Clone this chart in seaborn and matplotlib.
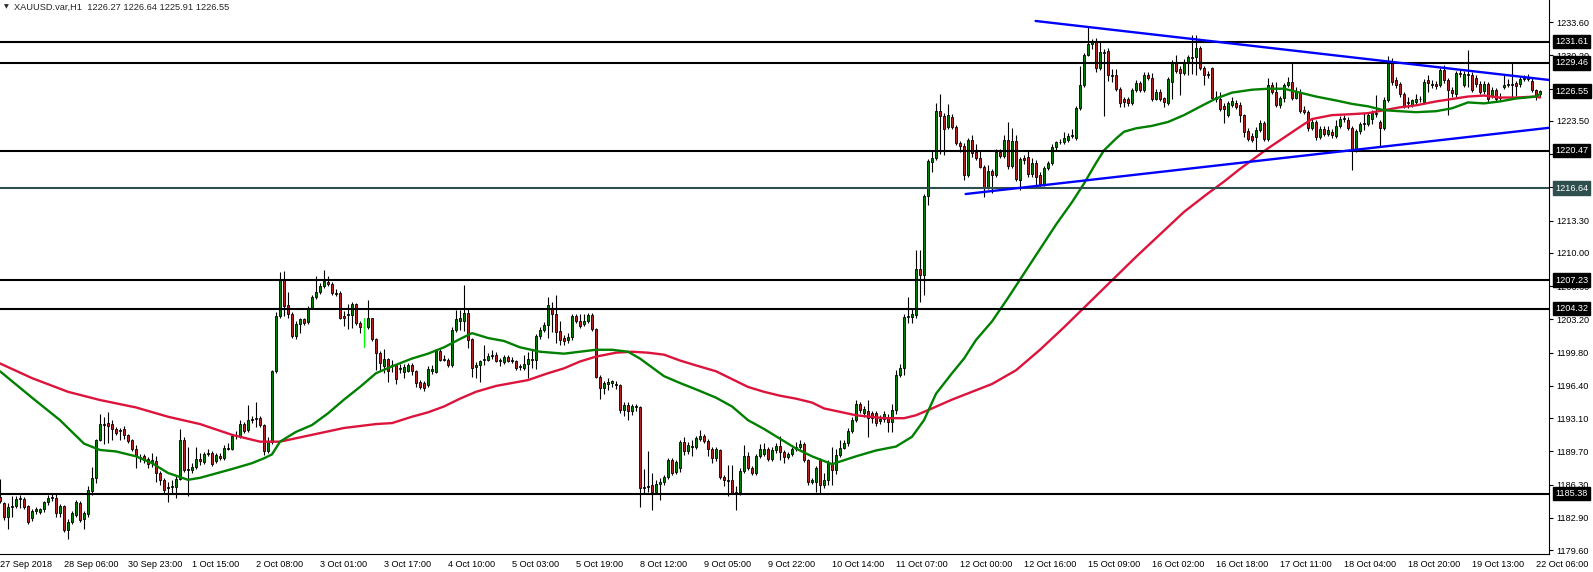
import numpy as np
import pandas as pd
import seaborn as sns
import matplotlib.pyplot as plt
from matplotlib.transforms import blended_transform_factory

# XAUUSD H1 candles (one value per hourly bar)
opens = [
    1185.0, 1184.4, 1183.0, 1184.0, 1184.1, 1184.8, 1184.8, 1184.1, 1182.9, 1183.6,
    1183.5, 1183.8, 1184.5, 1184.9, 1184.9, 1183.4, 1184.1, 1181.7, 1182.5, 1183.2,
    1184.4, 1182.8, 1183.3, 1185.7, 1187.0, 1190.9, 1192.5, 1192.6, 1192.5, 1192.0,
    1191.8, 1192.0, 1191.4, 1190.9, 1189.9, 1189.1, 1189.2, 1188.9, 1188.6, 1188.7,
    1187.5, 1186.8, 1186.0, 1186.1, 1186.1, 1186.9, 1190.9, 1187.8, 1187.8, 1188.1,
    1188.9, 1188.6, 1189.4, 1189.5, 1188.7, 1189.2, 1189.0, 1190.1, 1190.0, 1191.3,
    1191.3, 1192.5, 1191.9, 1192.9, 1193.0, 1193.1, 1192.4, 1189.7, 1190.7, 1197.9,
    1203.6, 1207.2, 1204.7, 1203.8, 1201.5, 1202.7, 1203.2, 1202.9, 1204.4, 1205.5,
    1206.0, 1206.6, 1207.0, 1206.8, 1205.9, 1205.9, 1203.6, 1203.7, 1203.7, 1204.8,
    1202.8, 1202.4, 1202.4, 1203.3, 1201.2, 1199.8, 1198.4, 1199.2, 1198.4, 1198.5,
    1198.1, 1197.8, 1197.9, 1198.5, 1197.9, 1196.8, 1196.7, 1196.5, 1197.9, 1197.8,
    1200.0, 1199.1, 1199.1, 1198.5, 1202.1, 1203.0, 1203.0, 1203.9, 1201.2, 1198.3,
    1198.5, 1199.1, 1199.1, 1199.5, 1199.6, 1199.0, 1198.8, 1199.4, 1199.0, 1198.9,
    1198.3, 1198.2, 1198.6, 1199.1, 1199.1, 1201.5, 1202.1, 1202.6, 1204.3, 1203.8,
    1202.0, 1201.3, 1201.1, 1201.4, 1203.6, 1203.0, 1202.7, 1203.0, 1203.7, 1202.2,
    1197.3, 1196.2, 1196.6, 1196.7, 1196.6, 1196.5, 1193.9, 1194.5, 1193.8, 1194.2,
    1194.2, 1186.0, 1186.1, 1186.3, 1185.6, 1186.4, 1186.6, 1187.1, 1188.8, 1187.6,
    1188.0, 1190.7, 1189.7, 1190.2, 1190.2, 1191.0, 1191.3, 1190.8, 1190.0, 1189.0,
    1189.8, 1187.1, 1186.8, 1186.8, 1185.5, 1185.6, 1187.7, 1189.2, 1188.0, 1187.5,
    1189.2, 1189.4, 1190.0, 1188.9, 1189.8, 1190.3, 1189.6, 1189.1, 1189.4, 1189.9,
    1190.2, 1190.5, 1188.8, 1186.6, 1186.6, 1188.8, 1186.3, 1186.8, 1188.5, 1187.8,
    1189.3, 1190.1, 1190.6, 1191.8, 1192.9, 1194.6, 1193.6, 1193.8, 1193.6, 1193.6,
    1192.8, 1193.0, 1193.1, 1192.7, 1193.9, 1197.5, 1198.2, 1203.5, 1203.5, 1203.7,
    1208.4, 1207.7, 1215.8, 1219.3, 1219.7, 1224.5, 1224.0, 1222.9, 1223.9, 1222.9,
    1221.2, 1220.9, 1218.0, 1221.6, 1220.3, 1219.7, 1218.8, 1216.7, 1218.4, 1218.0,
    1220.3, 1219.9, 1221.6, 1218.9, 1221.5, 1217.5, 1219.7, 1219.8, 1218.1, 1219.2,
    1218.0, 1217.0, 1218.7, 1219.2, 1220.8, 1221.3, 1221.4, 1221.6, 1222.0, 1221.8,
    1224.8, 1227.2, 1230.3, 1231.4, 1231.7, 1228.9, 1230.6, 1230.7, 1228.2, 1228.2,
    1226.8, 1225.8, 1225.8, 1225.3, 1226.7, 1227.4, 1226.7, 1228.2, 1227.9, 1225.8,
    1226.5, 1225.9, 1225.3, 1227.5, 1229.5, 1228.8, 1228.4, 1229.5, 1230.0, 1230.0,
    1231.0, 1228.9, 1228.3, 1228.9, 1226.0, 1225.7, 1225.0, 1224.1, 1225.1, 1225.3,
    1225.1, 1224.1, 1222.5, 1222.0, 1221.9, 1222.6, 1223.3, 1221.7, 1227.2, 1226.5,
    1225.1, 1225.9, 1227.2, 1227.5, 1225.9, 1226.5, 1224.6, 1224.4, 1222.8, 1223.4,
    1221.9, 1222.7, 1222.2, 1222.4, 1222.0, 1223.0, 1223.7, 1223.6, 1222.8, 1220.5,
    1222.5, 1223.2, 1223.2, 1223.7, 1224.2, 1223.4, 1222.8, 1225.6, 1229.4, 1227.7,
    1227.3, 1226.3, 1225.4, 1225.1, 1225.4, 1225.8, 1225.4, 1227.7, 1227.2, 1227.3,
    1227.2, 1228.7, 1227.7, 1226.7, 1226.3, 1228.4, 1227.2, 1228.3, 1228.2, 1227.9,
    1227.3, 1226.6, 1227.3, 1226.1, 1226.7, 1225.9, 1227.0, 1227.2, 1227.3, 1227.4,
    1227.3, 1227.8, 1227.8, 1227.6, 1226.7, 1226.27,
]
highs = [
    1186.9, 1184.5, 1184.4, 1185.1, 1185.1, 1185.2, 1185.0, 1184.2, 1183.8, 1184.0,
    1183.9, 1184.6, 1185.2, 1185.3, 1185.3, 1184.3, 1184.2, 1182.8, 1183.6, 1184.7,
    1184.6, 1183.6, 1186.2, 1188.1, 1191.0, 1193.5, 1193.2, 1193.7, 1192.9, 1192.2,
    1192.1, 1192.3, 1191.5, 1191.0, 1190.4, 1189.4, 1189.4, 1189.1, 1189.5, 1189.2,
    1187.7, 1187.0, 1186.6, 1186.8, 1187.2, 1192.0, 1191.2, 1190.2, 1188.5, 1190.2,
    1189.5, 1189.6, 1190.0, 1189.7, 1189.5, 1189.5, 1190.4, 1190.6, 1191.4, 1191.8,
    1192.9, 1192.7, 1194.5, 1193.3, 1194.8, 1193.3, 1192.5, 1191.2, 1198.0, 1204.0,
    1208.1, 1208.2, 1206.0, 1204.0, 1203.0, 1203.4, 1203.4, 1204.6, 1205.7, 1207.6,
    1206.9, 1208.3, 1207.6, 1207.0, 1206.3, 1206.1, 1204.1, 1204.8, 1205.0, 1204.9,
    1203.0, 1203.3, 1205.2, 1203.4, 1201.3, 1200.0, 1200.2, 1199.3, 1199.1, 1198.6,
    1198.6, 1198.6, 1198.7, 1198.7, 1198.0, 1197.0, 1196.9, 1198.4, 1198.5, 1200.2,
    1200.3, 1199.6, 1199.3, 1202.4, 1204.2, 1204.2, 1206.7, 1204.3, 1201.3, 1198.8,
    1199.1, 1200.6, 1199.8, 1200.1, 1199.9, 1199.3, 1199.6, 1199.6, 1199.4, 1199.1,
    1198.6, 1199.6, 1199.9, 1200.1, 1201.7, 1202.4, 1202.9, 1205.5, 1205.0, 1205.7,
    1203.0, 1201.6, 1201.8, 1203.8, 1203.8, 1203.8, 1203.8, 1203.9, 1203.9, 1202.3,
    1197.5, 1196.9, 1197.2, 1197.0, 1196.9, 1196.6, 1194.8, 1194.8, 1194.6, 1194.6,
    1194.3, 1187.9, 1189.7, 1187.5, 1186.8, 1187.0, 1187.3, 1189.0, 1189.0, 1188.8,
    1190.9, 1191.2, 1190.7, 1190.9, 1191.3, 1191.9, 1191.5, 1191.0, 1190.2, 1190.2,
    1190.0, 1187.3, 1188.3, 1188.3, 1186.2, 1188.0, 1190.4, 1189.6, 1188.2, 1189.4,
    1190.5, 1190.6, 1190.2, 1190.2, 1190.6, 1191.3, 1189.8, 1189.6, 1190.2, 1190.7,
    1190.9, 1190.7, 1188.9, 1187.0, 1188.2, 1189.0, 1187.5, 1188.8, 1190.2, 1189.9,
    1190.9, 1190.9, 1192.1, 1193.2, 1195.0, 1194.8, 1194.3, 1195.0, 1193.8, 1193.8,
    1193.4, 1193.8, 1193.5, 1194.6, 1198.0, 1198.6, 1203.8, 1205.5, 1204.3, 1210.3,
    1210.3, 1216.0, 1219.6, 1220.5, 1225.3, 1226.3, 1224.3, 1225.2, 1224.2, 1223.1,
    1221.5, 1221.2, 1221.8, 1222.1, 1221.1, 1220.4, 1219.0, 1219.0, 1218.6, 1220.6,
    1220.6, 1222.1, 1223.4, 1222.8, 1222.1, 1219.8, 1220.0, 1220.5, 1219.7, 1219.5,
    1218.3, 1218.9, 1219.4, 1221.1, 1221.5, 1221.7, 1222.4, 1222.3, 1222.7, 1225.0,
    1229.1, 1230.5, 1233.1, 1231.9, 1232.0, 1231.6, 1230.9, 1231.0, 1228.8, 1228.8,
    1227.0, 1226.0, 1226.0, 1226.9, 1227.7, 1227.6, 1228.5, 1228.5, 1228.4, 1226.8,
    1226.8, 1226.0, 1228.0, 1229.7, 1230.2, 1229.1, 1229.8, 1230.2, 1232.3, 1232.3,
    1231.2, 1229.1, 1228.6, 1229.0, 1226.6, 1226.5, 1225.3, 1225.5, 1226.0, 1225.6,
    1225.4, 1224.2, 1222.8, 1222.3, 1222.9, 1223.6, 1223.5, 1227.9, 1227.5, 1227.5,
    1226.1, 1227.4, 1228.0, 1229.4, 1227.0, 1226.8, 1225.0, 1224.6, 1223.7, 1223.6,
    1223.0, 1223.0, 1223.0, 1222.7, 1223.6, 1224.0, 1224.1, 1223.9, 1223.0, 1222.7,
    1223.4, 1224.3, 1224.4, 1224.6, 1226.2, 1223.6, 1226.0, 1230.1, 1229.9, 1228.0,
    1227.5, 1226.5, 1226.0, 1225.8, 1226.3, 1226.1, 1227.8, 1228.2, 1227.7, 1227.6,
    1228.9, 1229.2, 1227.9, 1227.0, 1228.6, 1228.8, 1228.6, 1230.8, 1228.5, 1228.2,
    1227.6, 1227.6, 1227.5, 1227.0, 1226.9, 1226.4, 1228.2, 1227.8, 1229.4, 1227.6,
    1228.1, 1228.2, 1228.3, 1228.0, 1226.8, 1226.64,
]
lows = [
    1184.4, 1182.7, 1181.8, 1183.0, 1183.9, 1183.9, 1183.8, 1182.3, 1182.6, 1183.3,
    1183.3, 1183.5, 1184.2, 1184.6, 1183.0, 1183.0, 1181.5, 1180.7, 1182.3, 1183.0,
    1182.5, 1181.8, 1183.0, 1185.2, 1186.5, 1190.8, 1190.5, 1190.6, 1190.9, 1191.4,
    1190.9, 1191.0, 1190.6, 1189.7, 1188.0, 1188.6, 1188.5, 1188.0, 1188.1, 1186.6,
    1186.3, 1185.3, 1184.5, 1185.5, 1184.9, 1186.8, 1187.6, 1185.1, 1187.5, 1187.9,
    1188.3, 1188.4, 1189.2, 1188.2, 1188.5, 1188.8, 1188.8, 1189.8, 1189.8, 1191.0,
    1191.1, 1191.6, 1191.7, 1192.6, 1192.2, 1192.2, 1189.3, 1189.5, 1190.5, 1197.7,
    1203.4, 1203.6, 1203.4, 1201.3, 1201.2, 1201.8, 1202.6, 1202.7, 1204.3, 1205.3,
    1205.8, 1206.4, 1206.6, 1205.7, 1205.6, 1203.2, 1202.5, 1202.2, 1202.3, 1202.6,
    1201.8, 1200.4, 1202.2, 1201.0, 1198.0, 1197.9, 1197.7, 1196.8, 1197.8, 1196.6,
    1197.7, 1197.2, 1197.8, 1197.5, 1196.3, 1196.1, 1195.9, 1196.3, 1197.6, 1197.7,
    1198.9, 1198.9, 1198.3, 1198.3, 1201.9, 1202.1, 1202.0, 1200.3, 1197.3, 1197.2,
    1196.8, 1198.5, 1198.9, 1199.2, 1198.8, 1198.4, 1198.6, 1198.8, 1198.7, 1198.0,
    1198.0, 1198.0, 1197.2, 1198.2, 1198.1, 1201.2, 1201.9, 1201.3, 1201.9, 1200.8,
    1200.6, 1200.6, 1200.8, 1201.1, 1202.8, 1202.3, 1202.5, 1202.8, 1202.0, 1197.2,
    1195.1, 1195.6, 1196.0, 1196.3, 1196.1, 1193.6, 1193.3, 1192.9, 1193.4, 1193.8,
    1184.0, 1185.5, 1185.6, 1183.7, 1185.4, 1184.7, 1186.3, 1186.9, 1187.3, 1187.4,
    1187.6, 1189.3, 1189.4, 1189.2, 1190.0, 1190.8, 1190.6, 1189.2, 1188.5, 1188.7,
    1186.9, 1186.2, 1185.1, 1185.3, 1183.7, 1185.2, 1187.5, 1187.8, 1187.3, 1187.3,
    1189.0, 1189.2, 1188.7, 1188.7, 1189.5, 1188.8, 1188.5, 1188.9, 1189.2, 1189.7,
    1190.0, 1188.6, 1186.3, 1186.4, 1185.6, 1185.4, 1186.0, 1186.3, 1186.3, 1187.4,
    1189.1, 1189.9, 1190.3, 1191.6, 1192.7, 1193.6, 1193.2, 1191.2, 1192.6, 1192.3,
    1192.5, 1192.7, 1191.7, 1191.7, 1193.5, 1197.3, 1197.5, 1202.8, 1202.8, 1203.4,
    1205.0, 1205.7, 1214.9, 1218.3, 1219.5, 1220.1, 1220.0, 1222.7, 1222.7, 1221.0,
    1220.3, 1217.5, 1217.8, 1219.8, 1219.5, 1218.7, 1215.7, 1216.5, 1216.1, 1217.8,
    1219.7, 1219.7, 1218.6, 1218.7, 1217.4, 1216.4, 1219.1, 1217.8, 1217.8, 1217.0,
    1216.8, 1216.8, 1218.5, 1219.0, 1220.4, 1221.1, 1221.1, 1221.4, 1221.8, 1221.6,
    1224.6, 1227.0, 1230.1, 1230.9, 1228.5, 1228.7, 1224.0, 1227.6, 1227.5, 1226.6,
    1224.9, 1224.9, 1225.0, 1225.1, 1226.5, 1226.5, 1226.5, 1227.7, 1225.5, 1225.6,
    1225.5, 1224.9, 1225.1, 1225.8, 1228.4, 1226.2, 1228.2, 1228.2, 1228.3, 1228.2,
    1228.7, 1227.2, 1227.9, 1225.6, 1225.4, 1224.5, 1223.3, 1223.9, 1224.9, 1224.7,
    1223.4, 1221.9, 1221.5, 1221.4, 1220.5, 1222.4, 1221.5, 1221.5, 1226.3, 1224.9,
    1224.8, 1225.4, 1227.0, 1225.6, 1225.7, 1224.3, 1224.2, 1222.5, 1222.6, 1221.6,
    1221.7, 1222.0, 1222.0, 1221.8, 1221.8, 1222.8, 1223.4, 1222.6, 1218.5, 1220.3,
    1222.2, 1222.6, 1223.0, 1223.2, 1223.9, 1220.9, 1222.6, 1225.4, 1227.2, 1226.9,
    1226.0, 1224.8, 1224.8, 1224.9, 1225.2, 1225.4, 1225.2, 1226.5, 1226.9, 1226.8,
    1227.0, 1227.4, 1224.1, 1226.0, 1226.0, 1228.0, 1227.0, 1227.0, 1226.5, 1227.0,
    1226.3, 1226.3, 1225.3, 1225.9, 1225.4, 1225.6, 1226.8, 1227.0, 1226.0, 1226.1,
    1227.0, 1227.6, 1227.6, 1226.5, 1225.6, 1225.91,
]
closes = [
    1184.6, 1183.0, 1184.0, 1184.1, 1184.8, 1184.9, 1184.0, 1182.5, 1183.6, 1183.8,
    1183.8, 1184.5, 1184.9, 1185.0, 1183.4, 1184.1, 1181.7, 1182.5, 1183.4, 1184.5,
    1182.7, 1183.4, 1185.8, 1187.0, 1190.9, 1192.5, 1192.4, 1192.3, 1192.0, 1191.6,
    1191.9, 1191.4, 1190.8, 1189.9, 1189.2, 1189.0, 1188.8, 1188.4, 1188.8, 1187.5,
    1186.8, 1185.8, 1186.1, 1186.2, 1186.9, 1190.9, 1187.8, 1187.9, 1188.1, 1188.9,
    1188.7, 1189.4, 1189.5, 1188.4, 1189.3, 1189.0, 1190.1, 1190.0, 1191.3, 1191.4,
    1192.5, 1191.8, 1192.9, 1193.0, 1193.1, 1192.4, 1189.7, 1190.7, 1197.9, 1203.6,
    1207.2, 1204.6, 1203.8, 1201.5, 1202.7, 1203.2, 1202.8, 1204.4, 1205.5, 1206.0,
    1206.6, 1207.1, 1206.8, 1205.9, 1205.8, 1203.4, 1203.4, 1203.8, 1204.8, 1202.8,
    1202.4, 1202.4, 1203.3, 1201.2, 1199.8, 1198.7, 1199.2, 1197.9, 1198.5, 1197.1,
    1198.2, 1198.3, 1198.5, 1197.9, 1196.7, 1196.3, 1196.2, 1198.1, 1198.1, 1200.0,
    1199.1, 1199.2, 1198.5, 1202.1, 1203.2, 1203.3, 1203.9, 1201.1, 1198.2, 1198.5,
    1198.9, 1199.2, 1199.5, 1199.6, 1199.0, 1199.1, 1199.4, 1199.0, 1199.1, 1198.2,
    1198.4, 1198.6, 1199.2, 1199.2, 1201.5, 1202.1, 1202.6, 1204.7, 1203.8, 1201.9,
    1201.1, 1201.0, 1201.4, 1203.6, 1203.0, 1202.5, 1203.0, 1203.7, 1202.2, 1197.3,
    1196.2, 1196.7, 1196.8, 1196.9, 1196.5, 1193.9, 1194.5, 1193.8, 1194.3, 1194.3,
    1186.0, 1186.1, 1186.2, 1185.6, 1186.4, 1186.6, 1187.1, 1188.8, 1187.5, 1188.6,
    1190.7, 1189.7, 1190.4, 1190.3, 1191.1, 1191.3, 1190.8, 1189.9, 1189.0, 1189.9,
    1187.1, 1186.8, 1186.7, 1185.5, 1185.6, 1187.7, 1189.2, 1188.0, 1187.5, 1189.2,
    1190.0, 1190.0, 1188.9, 1189.8, 1190.3, 1189.6, 1189.1, 1189.4, 1189.9, 1190.2,
    1190.5, 1188.8, 1186.6, 1186.8, 1188.0, 1186.3, 1186.8, 1188.5, 1187.8, 1189.3,
    1190.1, 1190.6, 1191.8, 1192.9, 1194.6, 1193.9, 1194.0, 1193.1, 1193.1, 1192.6,
    1193.0, 1193.5, 1192.7, 1193.9, 1197.5, 1198.2, 1203.5, 1203.6, 1203.8, 1208.4,
    1207.7, 1215.8, 1219.4, 1219.7, 1224.5, 1224.0, 1222.7, 1224.1, 1222.9, 1221.2,
    1220.9, 1218.0, 1221.6, 1220.2, 1219.7, 1218.8, 1216.7, 1218.4, 1218.0, 1220.3,
    1219.9, 1221.6, 1218.9, 1221.5, 1217.6, 1219.6, 1219.5, 1218.1, 1219.2, 1217.8,
    1217.1, 1218.7, 1219.2, 1220.8, 1221.3, 1221.4, 1221.8, 1222.0, 1222.1, 1224.8,
    1227.2, 1230.3, 1231.4, 1231.6, 1228.9, 1230.6, 1230.5, 1228.2, 1228.1, 1226.8,
    1225.3, 1225.4, 1225.3, 1226.7, 1227.4, 1226.7, 1228.2, 1227.9, 1225.8, 1226.5,
    1225.7, 1225.4, 1227.8, 1229.5, 1228.6, 1228.4, 1229.5, 1230.0, 1229.9, 1231.0,
    1228.9, 1228.2, 1228.2, 1225.9, 1225.7, 1224.7, 1224.7, 1225.3, 1225.5, 1224.9,
    1224.1, 1222.4, 1221.7, 1221.6, 1222.6, 1223.3, 1221.7, 1227.2, 1226.5, 1225.1,
    1225.9, 1227.2, 1227.5, 1225.9, 1226.5, 1224.5, 1224.4, 1222.8, 1223.4, 1221.9,
    1222.7, 1222.2, 1222.6, 1222.1, 1223.0, 1223.7, 1223.8, 1222.8, 1220.5, 1222.5,
    1223.2, 1223.3, 1224.1, 1224.3, 1224.3, 1222.8, 1225.6, 1229.4, 1227.5, 1227.2,
    1226.3, 1225.0, 1225.3, 1225.6, 1225.8, 1225.7, 1227.5, 1227.4, 1227.3, 1227.1,
    1228.7, 1227.7, 1226.7, 1226.4, 1228.4, 1228.3, 1228.3, 1228.2, 1226.7, 1227.3,
    1226.5, 1227.3, 1225.7, 1226.7, 1225.7, 1226.0, 1227.2, 1227.3, 1227.2, 1227.1,
    1227.8, 1227.9, 1228.0, 1226.7, 1226.1, 1226.55,
]

# moving averages, sampled along the chart (bar index, price)
ma_fast_bar = [0, 8, 15, 21, 25, 29, 34, 38, 42, 47, 50, 54, 58, 63, 66, 68, 70, 74, 78, 82,
               86, 90, 94, 98, 103, 107, 111, 115, 118, 122, 126, 130, 135, 141, 145, 149, 153, 157, 160, 166,
               170, 174, 179, 183, 187, 191, 195, 199, 203, 208, 214, 219, 224, 228, 231, 234, 238, 241, 244, 248,
               252, 256, 260, 264, 268, 271, 274, 276, 279, 281, 284, 288, 292, 296, 300, 304, 308, 313, 317, 321,
               325, 329, 334, 338, 342, 346, 350, 354, 359, 363, 367, 371, 375, 379, 384, 385]
ma_fast = [1197.9, 1195.2, 1192.9, 1190.5, 1189.85, 1189.7, 1189.2, 1188.5, 1187.5, 1186.8,
           1187.0, 1187.45, 1187.9, 1188.5, 1189.0, 1189.4, 1190.7, 1191.7, 1192.4, 1193.6,
           1195.0, 1196.3, 1197.7, 1198.4, 1199.2, 1199.7, 1200.35, 1201.2, 1201.8, 1201.3,
           1201.0, 1200.35, 1199.9, 1199.7, 1199.9, 1200.1, 1200.1, 1199.9, 1199.2, 1197.4,
           1196.7, 1196.05, 1195.2, 1194.3, 1192.9, 1192.0, 1191.0, 1190.0, 1189.2, 1188.4,
           1189.2, 1189.8, 1190.2, 1191.2, 1192.9, 1195.6, 1197.7, 1199.2, 1201.1, 1203.0,
           1205.4, 1207.9, 1210.4, 1212.9, 1215.2, 1217.1, 1219.2, 1220.5, 1221.7, 1222.4,
           1222.75, 1223.0, 1223.4, 1224.1, 1224.96, 1225.8, 1226.4, 1226.7, 1226.8, 1226.8,
           1226.4, 1226.0, 1225.6, 1225.25, 1225.0, 1224.6, 1224.5, 1224.4, 1224.5, 1224.8,
           1225.4, 1225.3, 1225.5, 1225.8, 1226.0, 1226.26]
ma_slow_bar = [0, 8, 17, 25, 34, 42, 50, 58, 65, 70, 78, 86, 94, 98, 103, 107, 111, 115, 119, 124,
               128, 132, 137, 141, 145, 149, 154, 158, 162, 166, 170, 174, 179, 183, 187, 191, 195, 199, 203, 206,
               214, 221, 226, 229, 233, 238, 243, 248, 254, 260, 266, 272, 278, 284, 290, 296, 302, 306, 310, 313,
               317, 321, 325, 328, 333, 338, 342, 346, 350, 354, 359, 363, 367, 371, 375, 379, 384, 385]
ma_slow = [1198.7, 1197.2, 1195.8, 1194.96, 1194.2, 1193.25, 1192.5, 1191.4, 1190.7, 1190.7,
           1191.4, 1192.1, 1192.5, 1192.6, 1193.25, 1193.7, 1194.3, 1195.1, 1195.8, 1196.4,
           1196.7, 1197.0, 1197.7, 1198.2, 1198.9, 1199.4, 1199.8, 1199.9, 1199.8, 1199.6,
           1199.0, 1198.5, 1197.9, 1197.1, 1196.3, 1195.8, 1195.4, 1195.1, 1194.7, 1194.1,
           1193.4, 1193.1, 1193.1, 1193.4, 1194.1, 1195.0, 1195.8, 1196.6, 1198.0, 1200.1,
           1202.4, 1204.8, 1207.2, 1209.6, 1211.9, 1214.2, 1216.1, 1217.3, 1218.6, 1219.5,
           1220.7, 1221.8, 1222.9, 1223.7, 1224.1, 1224.2, 1224.3, 1224.6, 1224.9, 1225.1,
           1225.5, 1225.75, 1226.0, 1226.1, 1225.9, 1225.9, 1226.0, 1225.9]

# horizontal levels and the triangle trend lines
levels = [1231.61, 1229.46, 1220.47, 1216.64, 1207.23, 1204.32, 1185.38]
level_colors = ['black', 'black', 'black', '#2f4f4f', 'black', 'black', 'black']
upper_x = [258.9, 387.4]
upper_y = [1233.73, 1227.69]
lower_x = [241.4, 387.4]
lower_y = [1216.03, 1222.81]

ytick_vals = [1233.60, 1230.20, 1226.80, 1223.50, 1220.10, 1216.70, 1213.30, 1210.00, 1206.60,
              1203.20, 1199.80, 1196.40, 1193.10, 1189.70, 1186.30, 1182.90, 1179.60]
xtick_labels = ['27 Sep 2018', '28 Sep 06:00', '30 Sep 23:00', '1 Oct 15:00', '2 Oct 08:00',
                '3 Oct 01:00', '3 Oct 17:00', '4 Oct 10:00', '5 Oct 03:00', '5 Oct 19:00',
                '8 Oct 12:00', '9 Oct 05:00', '9 Oct 22:00', '10 Oct 14:00', '11 Oct 07:00',
                '12 Oct 00:00', '12 Oct 16:00', '15 Oct 09:00', '16 Oct 02:00', '16 Oct 18:00',
                '17 Oct 11:00', '18 Oct 04:00', '18 Oct 20:00', '19 Oct 13:00', '22 Oct 06:00']

sns.set_style("white")
plt.rcParams['font.family'] = ['Liberation Sans', 'DejaVu Sans']

df = pd.DataFrame({'open': opens, 'high': highs, 'low': lows, 'close': closes})
df['i'] = np.arange(len(df))
up = df[df.close > df.open]
down = df[df.close < df.open]
flat = df[df.close == df.open]

fig = plt.figure(figsize=(15.93, 5.72), dpi=100)
ax = fig.add_axes([0, 18 / 572, 1549 / 1593, 554 / 572])

# candles
ax.vlines(df.i, df.low, df.high, color='black', lw=0.8, zorder=2)
ax.bar(up.i, up.close - up.open, bottom=up.open, width=0.55,
       color='#008000', edgecolor='black', lw=0.6, zorder=3)
ax.bar(down.i, down.open - down.close, bottom=down.close, width=0.55,
       color='#b22222', edgecolor='black', lw=0.6, zorder=3)
ax.vlines(flat.i, flat.low, flat.high, color='#00ff00', lw=0.8, zorder=3)
ax.hlines(flat.open, flat.i - 0.35, flat.i + 0.35, color='#00ff00', lw=0.8, zorder=3)

# moving averages
sns.lineplot(x=ma_slow_bar, y=ma_slow, color='#dc143c', lw=1.7, ax=ax, zorder=4)
sns.lineplot(x=ma_fast_bar, y=ma_fast, color='#008000', lw=1.7, ax=ax, zorder=4)

# objects
for lv, col in zip(levels, level_colors):
    ax.axhline(lv, color=col, lw=1.5, zorder=5)
ax.plot(upper_x, upper_y, color='#0000ff', lw=1.7, zorder=5, clip_on=True)
ax.plot(lower_x, lower_y, color='#0000ff', lw=1.7, zorder=5, clip_on=True)

ax.set_xlim(0, 387.25)
ax.set_ylim(1179.21, 1235.875)

ax.yaxis.tick_right()
ax.set_yticks(ytick_vals)
ax.set_yticklabels([f"{v:.2f}" for v in ytick_vals])
ax.set_xticks(range(0, len(closes), 16))
ax.set_xticklabels(xtick_labels, ha='left')
ax.tick_params(axis='both', direction='out', length=3, width=0.8, colors='black',
               labelsize=6.6, pad=1)
ax.tick_params(axis='y', pad=2)
for s in ['top', 'left']:
    ax.spines[s].set_visible(False)
for s in ['right', 'bottom']:
    ax.spines[s].set_color('black')
    ax.spines[s].set_linewidth(0.8)

# price labels for levels and the last price
trans = blended_transform_factory(fig.transFigure, ax.transData)
for lv, col in zip(levels + [closes[-1]], level_colors + ['black']):
    ax.text(1555 / 1593, lv, f"{lv:.2f}", transform=trans, color='white', fontsize=6.6,
            va='center', ha='left', zorder=10, clip_on=False,
            bbox=dict(boxstyle='square,pad=0.25', fc=col, ec=col))

# header
fig.text(4 / 1593, 1 - 7 / 572, '▼', fontsize=4.5, va='center', family=['DejaVu Sans'])
fig.text(14 / 1593, 1 - 7 / 572,
         f"XAUUSD.var,H1  {opens[-1]:.2f} {highs[-1]:.2f} {lows[-1]:.2f} {closes[-1]:.2f}",
         fontsize=6.7, va='center')

fig.savefig('out.png', dpi=100)
